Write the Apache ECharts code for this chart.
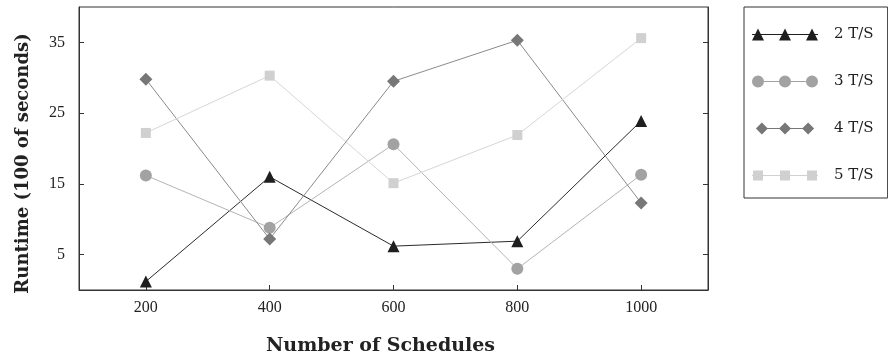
<!DOCTYPE html>
<html>
<head>
<meta charset="utf-8">
<script src="https://cdn.jsdelivr.net/npm/echarts@6/dist/echarts.min.js"></script>
<style>html,body{margin:0;padding:0;background:#fff}#c{width:888px;height:358px}</style>
</head>
<body>
<div id="c"></div>
<script>
var schedules = [200, 400, 600, 800, 1000];
var ts2 = [1.2, 16.0, 6.2, 6.9, 23.9];
var ts3 = [16.2, 8.8, 20.6, 3.0, 16.3];
var ts4 = [29.8, 7.2, 29.5, 35.3, 12.3];
var ts5 = [22.2, 30.3, 15.1, 21.9, 35.6];
var yTicks = [5, 15, 25, 35];
var xTicks = [200, 400, 600, 800, 1000];
var seriesNames = ['2 T/S', '3 T/S', '4 T/S', '5 T/S'];

function pairs(vals) { return schedules.map(function (x, i) { return [x, vals[i]]; }); }

var FONT = '"Liberation Serif", "DejaVu Serif", serif';
var TFONT = '"DejaVu Serif", serif';
var line = 'M0 5.5 L66 5.5 L66 6.5 L0 6.5 Z ';
function rep(f) { return f(0) + ' ' + f(27) + ' ' + f(54); }
var icons = [
  'path://' + line + rep(function (o) { return 'M' + o + ' 12 L' + (o + 6) + ' 0 L' + (o + 12) + ' 12 Z'; }),
  'path://' + line + rep(function (o) { return 'M' + o + ' 6 A6 6 0 1 1 ' + (o + 12) + ' 6 A6 6 0 1 1 ' + o + ' 6 Z'; }),
  'path://' + line + rep(function (o) { return 'M' + (o + 6) + ' -1 L' + (o + 13) + ' 6 L' + (o + 6) + ' 13 L' + (o - 1) + ' 6 Z'; }),
  'path://M0 0 L0 0 L0 12 Z ' + line + rep(function (o) { return 'M' + (o + 1) + ' 1 L' + (o + 11) + ' 1 L' + (o + 11) + ' 11 L' + (o + 1) + ' 11 Z'; })
];
var markerColors = ['#1e1e1e', '#a2a2a2', '#777777', '#d0d0d0'];
var lineColors = ['#2a2a2a', '#b4b4b4', '#8a8a8a', '#d6d6d6'];
var symbols = ['triangle', 'circle', 'diamond', 'rect'];
var sizes = [12, 12, 13, 10];
var datas = [ts2, ts3, ts4, ts5];

var chart = echarts.init(document.getElementById('c'));
chart.setOption({
  animation: false,
  backgroundColor: '#fff',
  grid: { left: 79, top: 7, right: 180, bottom: 68, outerBoundsMode: 'none', containLabel: false, show: true, borderColor: '#333', borderWidth: 1, backgroundColor: 'transparent' },
  legend: {
    orient: 'vertical', left: 744, top: 7,
    padding: [20, 14, 15, 8],
    itemGap: 32, itemWidth: 66, itemHeight: 12,
    borderColor: '#333', borderWidth: 1,
    textStyle: { fontFamily: TFONT, fontSize: 15, color: '#222', padding: [0, 0, 0, 11] },
    data: seriesNames.map(function (n, i) { return { name: n, icon: icons[i] }; })
  },
  xAxis: {
    type: 'value', min: 92, max: 1108,
    name: 'Number of Schedules', nameLocation: 'middle', nameGap: 47,
    nameTextStyle: { fontFamily: TFONT, fontSize: 19, fontWeight: 'bold', color: '#222', padding: [0, 26, 0, 0] },
    axisLine: { lineStyle: { color: '#333' } },
    axisTick: { inside: true, length: 5, lineStyle: { color: '#333' }, customValues: xTicks },
    axisLabel: { fontFamily: FONT, fontSize: 16, color: '#222', margin: 10, customValues: xTicks, formatter: function (v) { return String(v); } },
    splitLine: { show: false }
  },
  yAxis: [{
    type: 'value', min: 0, max: 40,
    name: 'Runtime (100 of seconds)', nameLocation: 'middle', nameGap: 47,
    nameTextStyle: { fontFamily: TFONT, fontSize: 18, fontWeight: 'bold', color: '#222', padding: [0, 30, 0, 0] },
    axisLine: { show: true, lineStyle: { color: '#333' } },
    axisTick: { show: true, inside: true, length: 5, lineStyle: { color: '#333' }, customValues: yTicks },
    axisLabel: { fontFamily: FONT, fontSize: 16, color: '#222', margin: 14, customValues: yTicks },
    splitLine: { show: false }
  }, {
    type: 'value', min: 0, max: 40, position: 'right',
    axisLine: { show: true, lineStyle: { color: '#333' } },
    axisTick: { show: true, inside: true, length: 5, lineStyle: { color: '#333' }, customValues: yTicks },
    axisLabel: { show: false },
    splitLine: { show: false }
  }],
  series: seriesNames.map(function (n, i) {
    return {
      name: n, type: 'line', yAxisIndex: 0,
      data: pairs(datas[i]),
      symbol: symbols[i], symbolSize: sizes[i],
      itemStyle: { color: markerColors[i] },
      lineStyle: { color: lineColors[i], width: 1 },
      z: 2 + i
    };
  })
});
</script>
</body>
</html>
